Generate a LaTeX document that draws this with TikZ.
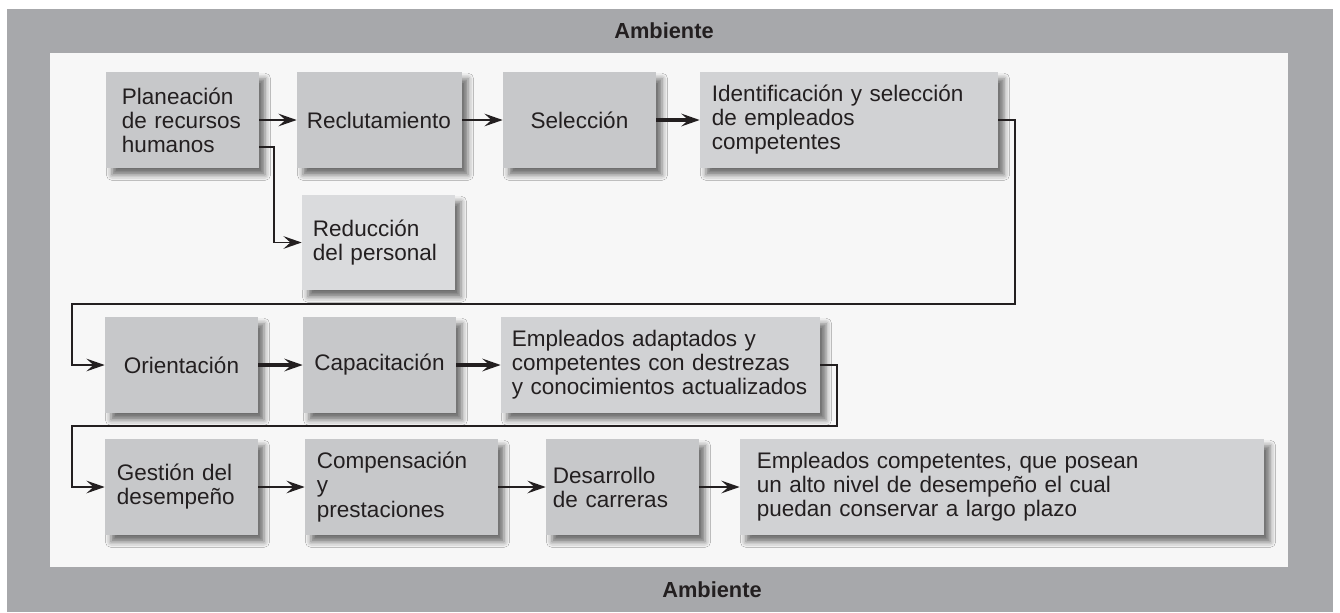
\documentclass[tikz,border=0pt]{standalone}
\usepackage{fontspec}
\setmainfont{Liberation Sans}
\usetikzlibrary{arrows.meta,calc,shadows.blur}
\definecolor{AmbGray}{HTML}{A7A8AB}
\definecolor{AmbPale}{HTML}{F7F7F7}
\definecolor{StageFill}{HTML}{C7C8CA}
\definecolor{ResultFill}{HTML}{D1D2D4}
\definecolor{CutFill}{HTML}{DADBDD}
\definecolor{Ink}{HTML}{231F20}
\tikzset{
  stagebox/.style={fill=StageFill,minimum height=2.4cm,inner ysep=0pt,align=left,
    text=Ink,font=\fontsize{16pt}{17.1pt}\selectfont,
    blur shadow={shadow xshift=0.15cm,shadow yshift=-0.17cm,shadow blur radius=0.14cm,shadow opacity=55}},
  resultbox/.style={stagebox,fill=ResultFill},
  cutbox/.style={stagebox,fill=CutFill},
  envlabel/.style={text=Ink,font=\fontsize{15.5pt}{17pt}\selectfont\bfseries},
  flow/.style={-{Stealth[length=13pt,width=9pt,inset=5pt]},line width=1.4pt,draw=Ink},
  boldflow/.style={flow,line width=2.3pt},
  wrap/.style={flow}
}

\begin{document}
\begin{tikzpicture}[x=0.025cm,y=-0.025cm]
  \useasboundingbox (0,0) rectangle (1340,612);
  \fill[AmbGray] (7,9) rectangle (1333,612);
  \fill[AmbPale] (50,53) rectangle (1288,567);
  \node[envlabel] (envtop) at (664,31) {Ambiente};
  \node[envlabel] (envbottom) at (712,590) {Ambiente};

  \node[stagebox,text width=3.025cm,inner xsep=0.4cm] (plan) at (182.5,120) {Planeación\\de recursos\\humanos};
  \node[stagebox,text width=3.625cm,inner xsep=0.25cm] (recl) at (379.5,120) {Reclutamiento};
  \node[stagebox,text width=3.825cm,inner xsep=0pt,align=center] (sel) at (579.5,120) {Selección};
  \node[resultbox,text width=6.85cm,inner xsep=0.3cm] (ident) at (849,120) {Identificación y selección\\de empleados\\competentes};
  \node[cutbox,text width=3.275cm,inner xsep=0.275cm,minimum height=2.375cm] (reduc) at (378.5,242.5) {Reducción\\del personal};

  \node[stagebox,text width=3.825cm,inner xsep=0pt,align=center] (orient) at (181.5,365) {Orientación};
  \node[stagebox,text width=3.825cm,inner xsep=0pt,align=center] (capac) at (379.5,365) {Capacitación};
  \node[resultbox,text width=7.425cm,inner xsep=0.275cm] (adapt) at (660.5,365) {Empleados adaptados y\\competentes con destrezas\\y conocimientos actualizados};

  \node[stagebox,text width=3.225cm,inner xsep=0.3cm] (gest) at (181.5,487) {Gestión del\\desempeño};
  \node[stagebox,text width=4.225cm,inner xsep=0.3cm] (comp) at (401.5,487) {Compensación\\y\\prestaciones};
  \node[stagebox,text width=3.475cm,inner xsep=0.175cm] (desa) at (622.5,487) {Desarrollo\\de carreras};
  \node[resultbox,text width=12.25cm,inner xsep=0.425cm] (final) at (1002,487) {Empleados competentes, que posean\\un alto nivel de desempeño el cual\\puedan conservar a largo plazo};

  \draw[flow] (plan) -- (recl);
  \draw[flow] ($(plan.east)+(0,27)$) -| ($(reduc.west)+(-28,0)$) -- (reduc.west);
  \draw[flow] (recl) -- (sel);
  \draw[boldflow] (sel) -- (ident);
  \draw[wrap] (ident.east) -- ++(17,0) |- (72,304) |- (orient.west);
  \draw[boldflow] (orient) -- (capac);
  \draw[boldflow] (capac) -- (adapt);
  \draw[wrap] (adapt.east) -- ++(17,0) |- (72,426) |- (gest.west);
  \draw[flow] (gest) -- (comp);
  \draw[flow] (comp) -- (desa);
  \draw[flow] (desa) -- (final);

\end{tikzpicture}
\end{document}
